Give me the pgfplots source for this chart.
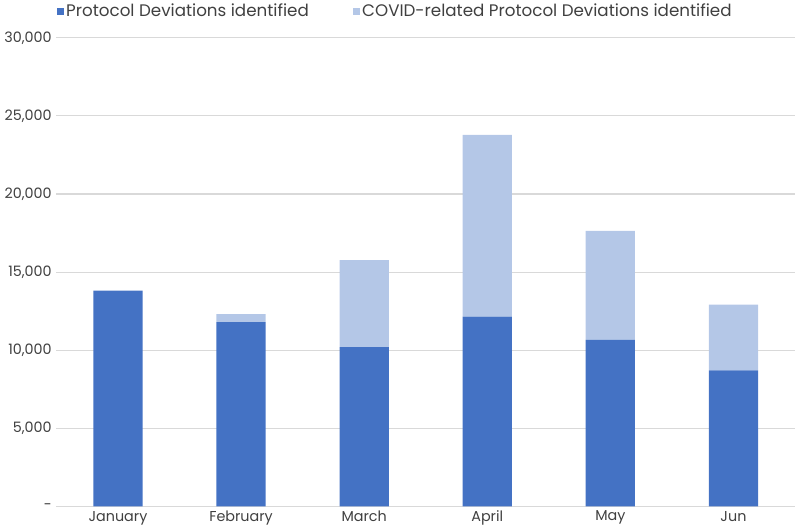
\documentclass[border=0pt]{standalone}
\usepackage{pgfplots}
\pgfplotsset{compat=1.18}
\usepackage{fontspec}
\setmainfont{Poppins}
\definecolor{pdblue}{HTML}{4472C4}
\definecolor{covidblue}{HTML}{B4C7E7}
\definecolor{gridgray}{HTML}{D9D9D9}
\definecolor{txtgray}{HTML}{404040}

\begin{document}
\begin{tikzpicture}
\begin{axis}[
  scale only axis,
  width=556.5pt,
  height=353pt,
  ybar stacked,
  bar width=37.1pt,
  xmin=-0.5, xmax=5.5,
  ymin=0, ymax=30000,
  scaled y ticks=false,
  xtick={0,1,2,3,4,5},
  xticklabels={January,February,March,April,May,Jun},
  ytick={0,5000,10000,15000,20000,25000,30000},
  yticklabels={{-},{5,000},{10,000},{15,000},{20,000},{25,000},{30,000}},
  ymajorgrids,
  grid style={gridgray, line width=0.8pt},
  axis line style={draw=none},
  major tick length=0pt,
  tick label style={font=\fontsize{10.8}{12}\selectfont, text=txtgray},
  legend style={draw=none, fill=none, at={(0,1)}, anchor=south west,
    yshift=12pt, inner sep=0pt, font=\fontsize{12.6}{14}\selectfont, text=txtgray,
    /tikz/every even column/.append style={column sep=31pt}},
  legend columns=2,
  legend cell align=left,
  legend image code/.code={\fill[#1] (0pt,-2.6pt) rectangle (5.2pt,2.6pt);},
]
\addplot[fill=pdblue, draw=none] coordinates {
(0,13810) (1,11790) (2,10190) (3,12150) (4,10660) (5,8700)};
\addplot[fill=covidblue, draw=none] coordinates {
(0,0) (1,510) (2,5570) (3,11630) (4,6980) (5,4220)};
\legend{Protocol Deviations identified, COVID-related Protocol Deviations identified}
\end{axis}
\path ([xshift=-39.75pt,yshift=-15.2pt]current axis.south west) rectangle ([xshift=1.5pt,yshift=28.5pt]current axis.north east);
\end{tikzpicture}
\end{document}
